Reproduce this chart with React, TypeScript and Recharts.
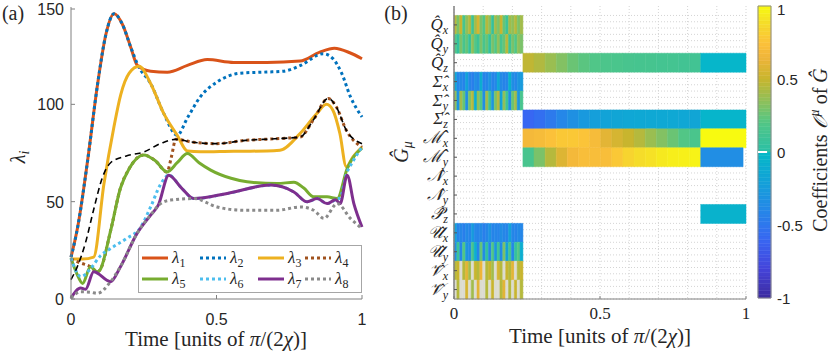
import React from 'react';
import {
  LineChart, Line, XAxis, YAxis, Legend, Scatter,
  ComposedChart, ReferenceArea, ReferenceLine, CartesianGrid,
} from 'recharts';

const SERIF = '"Liberation Serif", "DejaVu Serif", serif';
const SANS = '"Liberation Sans", Arial, sans-serif';
const AXIS = '#808080';
const INK = '#262626';

// ---- panel (a): eigenvalues over time, pairs of [time, value]
const lambda1 = [[0, 21.5], [0.023, 37], [0.057, 71], [0.091, 110], [0.12, 136], [0.148, 146.5], [0.177, 141], [0.205, 129.5], [0.228, 120], [0.274, 117], [0.331, 116.5], [0.4, 120], [0.468, 123], [0.559, 121.5], [0.673, 121.5], [0.787, 122.2], [0.855, 126.8], [0.905, 128.8], [0.958, 126.5], [1, 123.4]];
const lambda2 = [[0, 21.5], [0.023, 37], [0.057, 71], [0.091, 110], [0.12, 136], [0.148, 146.5], [0.177, 141], [0.205, 129.5], [0.232, 119.5], [0.274, 110.6], [0.319, 95.2], [0.365, 84.1], [0.4, 93], [0.445, 104], [0.502, 111.5], [0.582, 116], [0.673, 116.6], [0.73, 117], [0.789, 120], [0.867, 126], [0.9, 123.5], [0.93, 116], [0.96, 104], [1, 93.5]];
const lambda3 = [[0, 20.5], [0.04, 20.5], [0.078, 21.5], [0.113, 59], [0.147, 88], [0.171, 105], [0.2, 116], [0.234, 119.5], [0.274, 110.6], [0.319, 95.2], [0.365, 84.1], [0.4, 76], [0.445, 75.6], [0.559, 75.9], [0.673, 76], [0.718, 76.4], [0.787, 85], [0.844, 95.2], [0.878, 100], [0.9, 97], [0.924, 85], [0.946, 67.9], [0.969, 73], [1, 78.1]];
const lambda4 = [[0, 20.5], [0.033, 18.5], [0.067, 16.6], [0.09, 14], [0.1, 15], [0.136, 35], [0.17, 57], [0.2, 67], [0.25, 74], [0.29, 71], [0.33, 65.3], [0.345, 73], [0.36, 82], [0.42, 80.5], [0.5, 79.8], [0.6, 81.5], [0.7, 82.3], [0.787, 83.2], [0.832, 91.8], [0.884, 103], [0.912, 98.6], [0.946, 86.7], [1, 78]];
const lambda5 = [[0, 21], [0.02, 13], [0.04, 8], [0.067, 16.6], [0.09, 14], [0.1, 15], [0.136, 35], [0.17, 57], [0.2, 67], [0.25, 74], [0.29, 71], [0.33, 65.3], [0.365, 70], [0.4, 74.7], [0.44, 70], [0.48, 66.2], [0.55, 62], [0.605, 60.2], [0.709, 59.3], [0.766, 60], [0.8, 57], [0.834, 52.5], [0.88, 52.5], [0.915, 51.6], [0.949, 67], [1, 77.5]];
const lambda6 = [[0, 21], [0.034, 11.5], [0.067, 15.5], [0.1, 22], [0.137, 26], [0.19, 31], [0.24, 37], [0.274, 47.4], [0.308, 59], [0.336, 63.6], [0.38, 57], [0.422, 51.6], [0.537, 54.2], [0.686, 58.5], [0.766, 55], [0.812, 49.9], [0.846, 51.6], [0.88, 49], [0.909, 51], [0.925, 52], [0.946, 64], [0.97, 71], [1, 78]];
const lambda7 = [[0, 0.5], [0.033, 5.6], [0.05, 5], [0.078, 14], [0.136, 8.9], [0.17, 16.6], [0.227, 33.7], [0.273, 43], [0.3, 48.2], [0.336, 63.6], [0.38, 57], [0.422, 51.6], [0.537, 54.2], [0.686, 58.5], [0.766, 55], [0.812, 49.9], [0.846, 51.6], [0.88, 49], [0.909, 51], [0.925, 49], [0.949, 63.6], [0.972, 49], [1, 37]];
const lambda8 = [[0, 0.5], [0.033, 3.7], [0.067, 3.5], [0.09, 2.9], [0.136, 8.9], [0.17, 16.6], [0.227, 33.7], [0.273, 43], [0.308, 49], [0.342, 50.8], [0.422, 51.6], [0.502, 47.3], [0.594, 45.6], [0.709, 45.6], [0.789, 47.3], [0.834, 45.6], [0.869, 41.4], [0.915, 49], [0.96, 41.4], [1, 36.2]];
const lambdaDashed = [[0, 10], [0.02, 16], [0.05, 29], [0.078, 46], [0.107, 62], [0.136, 70], [0.19, 73.5], [0.25, 75.5], [0.31, 80], [0.36, 82], [0.42, 80.5], [0.5, 79.8], [0.6, 81.5], [0.7, 82.3], [0.787, 83.2], [0.832, 91.8], [0.884, 103], [0.912, 98.6], [0.946, 86.7], [1, 79.8]];

const timeTicks = [0, 0.5, 1];
const lambdaTicks = [0, 50, 100, 150];

const pts = (arr: number[][]) => arr.map(([t, v]) => ({ t, v }));

const lambdaSeries = [
  { sub: '1', data: lambda1, color: '#D95319', dotted: false },
  { sub: '2', data: lambda2, color: '#0072BD', dotted: true },
  { sub: '3', data: lambda3, color: '#EDB120', dotted: false },
  { sub: '4', data: lambda4, color: '#A0521E', dotted: true },
  { sub: '5', data: lambda5, color: '#77AC30', dotted: false },
  { sub: '6', data: lambda6, color: '#4DBEEE', dotted: true },
  { sub: '7', data: lambda7, color: '#7E2F8E', dotted: false },
  { sub: '8', data: lambda8, color: '#8A8A8A', dotted: true },
];

// ---- panel (b): coefficients of G on each generator
const rowLabels = [
  ['Q', 'x'], ['Q', 'y'], ['Q', 'z'], ['Σ', 'x'], ['Σ', 'y'], ['Σ', 'z'],
  ['ℳ', 'x'], ['ℳ', 'y'], ['𝒩', 'x'], ['𝒩', 'y'], ['𝒫', 'z'],
  ['𝒰', 'x'], ['𝒰', 'y'], ['𝒱', 'x'], ['𝒱', 'y'],
];
const earlyEnd = 0.236;
const switchTime = 0.845;

// early (noisy) block, 0 .. earlyEnd  (null = blank column)
const qxEarly = [0.45, 0.3, 0.5, 0.15, 0.35, 0.45, 0.1, 0.4, 0.55, 0.3, 0.2, 0.45, 0.35, 0.05, 0.4, 0.3, 0.5, 0.25, 0.1, 0.4, 0.35, 0.45, 0.3, 0.4];
const qyEarly = [0.2, 0.05, 0.3, 0.15, 0.25, 0.05, 0.35, 0.2, 0.1, 0.3, 0.15, 0.25, 0.05, 0.3, 0.2, 0.35, 0.15, 0.25, 0.45, 0.1, 0.3, 0.2, 0.35, 0.3];
const sxEarly = [-0.15, -0.4, -0.38, -0.42, -0.2, -0.4, -0.45, -0.35, -0.4, -0.1, -0.42, -0.4, -0.3, -0.42, -0.4, -0.15, -0.38, -0.42, -0.4, -0.05, -0.35, -0.4, -0.3, -0.25];
const syEarly = [0.35, -0.3, 0.4, 0.25, -0.35, 0.3, 0.45, -0.1, 0.35, 0.2, -0.35, 0.4, 0.1, -0.3, 0.3, 0.45, -0.2, 0.35, 0.1, -0.35, 0.25, 0.4, -0.3, 0.15];
const uxEarly = [-0.2, -0.42, -0.4, -0.45, -0.38, -0.42, -0.25, -0.4, -0.42, -0.38, -0.45, -0.4, -0.3, -0.42, -0.4, -0.42, -0.35, -0.4, -0.42, -0.2, -0.4, -0.42, -0.38, -0.4];
const uyEarly = [-0.35, 0.1, -0.4, 0.2, -0.3, -0.38, 0.15, -0.1, -0.4, 0.25, -0.35, 0.05, -0.4, 0.2, -0.3, 0.1, -0.38, 0.3, -0.2, 0.15, -0.4, 0.05, 0.2, -0.1];
const vxEarly = [0.45, 0.5, null, 0.45, 0.6, 0.4, null, 0.5, 0.45, 0.65, null, 0.45, 0.5, 0.4, null, 0.55, 0.45, null, 0.5, 0.45, 0.6, null, 0.45, 0.5];
const vyEarly = [null, 0.45, null, null, 0.55, null, 0.4, null, 0.6, null, null, 0.45, null, 0.5, null, null, 0.45, 0.6, null, 0.45, null, 0.5, null, 0.45];

// middle block, earlyEnd .. switchTime
const qzMid = [0.48, 0.44, 0.38, 0.32, 0.26, 0.22, 0.19, 0.17, 0.16, 0.15, 0.14, 0.14, 0.13, 0.13, 0.12, 0.12];
const szMid = [-0.6, -0.55, -0.48, -0.4, -0.33, -0.27, -0.22, -0.19, -0.17, -0.16, -0.15, -0.15, -0.15, -0.15, -0.16, -0.17];
const mxMid = [0.68, 0.7, 0.74, 0.78, 0.78, 0.76, 0.7, 0.6, 0.55, 0.5, 0.45, 0.38, 0.32, 0.26, 0.2, 0.16];
const myMid = [0.15, 0.3, 0.45, 0.58, 0.68, 0.72, 0.72, 0.72, 0.78, 0.84, 0.88, 0.9, 0.93, 0.95, 0.96, 0.97];

// late block, switchTime .. 1
const qzLate = -0.03;
const szLate = -0.04;
const mxLate = 1.0;
const myLate = -0.35;
const pzLate = -0.06;

const colorbarTicks = [-1, -0.5, 0, 0.5, 1];

// colormap, sampled from the reference colour bar
const cmap: [number, string][] = [
  [-1, '#3d2b9e'], [-0.8, '#4444da'], [-0.6, '#3867f2'], [-0.4, '#2587e8'],
  [-0.2, '#13a2d8'], [-0.01, '#05b8c8'], [0.01, '#2cc0a4'], [0.2, '#52c686'],
  [0.35, '#8fc05a'], [0.5, '#c8b52e'], [0.65, '#f0b53a'], [0.75, '#fcc23a'],
  [0.88, '#f5dc2a'], [1, '#f8fa10'],
];

const hex = (h: string) => [1, 3, 5].map((i) => parseInt(h.slice(i, i + 2), 16));
const colorFor = (v: number | null) => {
  if (v === null) return '#dcdcd0';
  for (let i = 1; i < cmap.length; i++) {
    const [v1, c1] = cmap[i];
    const [v0, c0] = cmap[i - 1];
    if (v <= v1) {
      const f = Math.max(0, (v - v0) / (v1 - v0));
      const a = hex(c0), b = hex(c1);
      return `rgb(${a.map((x, k) => Math.round(x + (b[k] - x) * f)).join(',')})`;
    }
  }
  return cmap[cmap.length - 1][1];
};

type Cell = { row: number; x1: number; x2: number; v: number | null };
const cells: Cell[] = [];
const addRun = (row: number, vals: (number | null)[], start: number, end: number) => {
  const w = (end - start) / vals.length;
  vals.forEach((v, i) => cells.push({ row, x1: start + i * w, x2: start + (i + 1) * w, v }));
};
addRun(0, qxEarly, 0, earlyEnd);
addRun(1, qyEarly, 0, earlyEnd);
addRun(2, qzMid, earlyEnd, switchTime);
addRun(2, [qzLate], switchTime, 1);
addRun(3, sxEarly, 0, earlyEnd);
addRun(4, syEarly, 0, earlyEnd);
addRun(5, szMid, earlyEnd, switchTime);
addRun(5, [szLate], switchTime, 1);
addRun(6, mxMid, earlyEnd, switchTime);
addRun(6, [mxLate], switchTime, 1);
addRun(7, myMid, earlyEnd, switchTime);
addRun(7, [myLate], switchTime, 0.99);
addRun(10, [pzLate], switchTime, 1);
addRun(11, uxEarly, 0, earlyEnd);
addRun(12, uyEarly, 0, earlyEnd);
addRun(13, vxEarly, 0, earlyEnd);
addRun(14, vyEarly, 0, earlyEnd);

// cell centres, fed to an invisible scatter so the axes have data
const cellCentres = cells.map((c) => ({ t: (c.x1 + c.x2) / 2, r: c.row + 0.5 }));

const rowTicks = rowLabels.map((_, i) => i + 0.5);
const gridX = Array.from({ length: 31 }, (_, i) => i / 30);
const gridY = Array.from({ length: 46 }, (_, i) => i / 3);
const cbarSlices = Array.from({ length: 80 }, (_, i) => -1 + (i * 2) / 80);
const cbarCentres = cbarSlices.map((v) => ({ t: 0.5, r: v + 1 / 80 }));

const NoShape = () => <g />;

const LeftXTick = ({ x, y, payload }: any) => (
  <g>
    <line x1={x} x2={x} y1={y} y2={y - 4} stroke={AXIS} />
    <text x={x} y={y + 26} textAnchor="middle" fontFamily={SANS} fontSize={16} fill={INK}>{payload.value}</text>
  </g>
);
const LeftYTick = ({ x, y, payload }: any) => (
  <g>
    <line x1={x} x2={x + 4} y1={y} y2={y} stroke={AXIS} />
    <text x={x - 7} y={y + 6} textAnchor="end" fontFamily={SANS} fontSize={16} fill={INK}>{payload.value}</text>
  </g>
);
const HeatXTick = ({ x, y, payload }: any) => (
  <g>
    <line x1={x} x2={x} y1={y} y2={y - 3} stroke={AXIS} />
    <text x={x} y={y + 20} textAnchor="middle" fontFamily={SERIF} fontSize={17} fill={INK}>{payload.value}</text>
  </g>
);
const RowTick = ({ x, y, payload }: any) => {
  const lab = rowLabels[Math.round(payload.value - 0.5)];
  if (!lab) return <g />;
  return (
    <g>
      <line x1={x} x2={x + 3} y1={y} y2={y} stroke="#555" />
      <text x={x - 6} y={y + 5} textAnchor="end" fontFamily={SERIF} fontStyle="italic" fontSize={17} fill={INK}>
        {lab[0] + '\u0302'}
        <tspan fontSize={12} dy={4}>{lab[1]}</tspan>
      </text>
    </g>
  );
};
const CbarTick = ({ x, y, payload }: any) => (
  <text x={x + 6} y={Math.max(y + 5.5, 15)} textAnchor="start" fontFamily={SANS} fontSize={15} fill={INK}>{payload.value}</text>
);

const legendCols = [4, 62, 120, 167];
const LambdaLegend = () => (
  <svg width={224} height={48}>
    <rect x={0.5} y={0.5} width={223} height={47} fill="#fff" stroke="#a6a6a6" />
    {lambdaSeries.map((s, i) => {
      const cx = legendCols[i % 4];
      const cy = i < 4 ? 13 : 34;
      return (
        <g key={s.sub}>
          <line x1={cx} x2={cx + 26} y1={cy} y2={cy} stroke={s.color} strokeWidth={3}
            strokeDasharray={s.dotted ? '3 3' : undefined} />
          <text x={cx + 30} y={cy + 5} fontFamily={SERIF} fontStyle="italic" fontSize={17} fill={INK}>
            λ<tspan fontSize={12} dy={4} fontStyle="normal">{s.sub}</tspan>
          </text>
        </g>
      );
    })}
  </svg>
);

export default function App() {
  return (
    <div style={{ position: 'absolute', left: 0, top: 0, width: 830, height: 351, background: '#fff', overflow: 'hidden' }}>
      <div style={{ position: 'absolute', left: 0, top: 0 }}>
        <LineChart width={400} height={351} margin={{ top: 7, right: 38, bottom: 0, left: 0 }}>
          <XAxis type="number" dataKey="t" domain={[0, 1]} ticks={timeTicks} height={52}
            axisLine={{ stroke: AXIS }} tickLine={false} tickSize={0} tickMargin={0} tick={<LeftXTick />} allowDuplicatedCategory={false} />
          <YAxis type="number" domain={[0, 150]} ticks={lambdaTicks} width={71}
            axisLine={{ stroke: AXIS }} tickLine={false} tickSize={0} tickMargin={0} tick={<LeftYTick />} />
          {lambdaSeries.map((s) => (
            <Line key={s.sub} data={pts(s.data)} dataKey="v" type="monotone" stroke={s.color} strokeWidth={3}
              strokeDasharray={s.dotted ? '3 3' : undefined} dot={false} activeDot={false} isAnimationActive={false} />
          ))}
          <Line data={pts(lambdaDashed)} dataKey="v" type="monotone" stroke="#000" strokeWidth={1.6}
            strokeDasharray="6 4" dot={false} activeDot={false} isAnimationActive={false} />
          <Legend layout="horizontal" align="center" verticalAlign="middle" content={<LambdaLegend />}
            wrapperStyle={{ left: 138, top: 245, width: 224, height: 48 }} />
        </LineChart>
      </div>

      <div style={{ position: 'absolute', left: 400, top: 0 }}>
        <ComposedChart width={360} height={351} margin={{ top: 6, right: 14, bottom: 0, left: 0 }}>
          <CartesianGrid stroke="#d4d4d4" strokeDasharray="1 2" verticalValues={gridX} horizontalValues={gridY} />
          <XAxis type="number" dataKey="t" domain={[0, 1]} ticks={timeTicks} height={52} allowDataOverflow
            axisLine={{ stroke: AXIS }} tickLine={false} tickSize={0} tickMargin={0} tick={<HeatXTick />} />
          <YAxis type="number" dataKey="r" domain={[-0.5, 15]} reversed ticks={rowTicks} width={54} interval={0} allowDataOverflow
            axisLine={{ stroke: AXIS, strokeWidth: 1.5 }} tickLine={false} tickSize={0} tickMargin={0} tick={<RowTick />} />
          {cells.map((c, i) => (
            <ReferenceArea key={i} x1={c.x1} x2={c.x2} y1={c.row} y2={c.row + 1}
              fill={colorFor(c.v)} fillOpacity={1} stroke={colorFor(c.v)} strokeWidth={0.5} />
          ))}
          <Scatter data={cellCentres} dataKey="r" shape={<NoShape />} isAnimationActive={false} />
        </ComposedChart>
      </div>

      <div style={{ position: 'absolute', left: 745, top: 0 }}>
        <ComposedChart width={85} height={351} margin={{ top: 6, right: 0, bottom: 53, left: 13 }}>
          <XAxis type="number" dataKey="t" domain={[0, 1]} hide />
          <YAxis type="number" dataKey="r" orientation="right" domain={[-1, 1]} ticks={colorbarTicks} width={59} interval={0}
            axisLine={false} tickLine={false} tickSize={0} tickMargin={0} tick={<CbarTick />} />
          {cbarSlices.map((v, i) => (
            <ReferenceArea key={i} x1={0} x2={1} y1={v} y2={v + 2 / 80}
              fill={colorFor(v + 1 / 80)} fillOpacity={1} stroke={colorFor(v + 1 / 80)} strokeWidth={0.5} />
          ))}
          <ReferenceArea x1={0} x2={1} y1={-1} y2={1} fill="none" fillOpacity={0} stroke="#8c8c8c" />
          <ReferenceLine segment={[{ x: 0, y: 0 }, { x: 0.7, y: 0 }]} stroke="#fff" strokeWidth={2} />
          <Scatter data={cbarCentres} dataKey="r" shape={<NoShape />} isAnimationActive={false} />
        </ComposedChart>
      </div>

      <svg width={830} height={351} style={{ position: 'absolute', left: 0, top: 0, pointerEvents: 'none' }}>
        <g fontFamily={SERIF} fill={INK}>
          <text x={13} y={20} fontSize={20} textAnchor="middle">(a)</text>
          <text x={396} y={20} fontSize={20} textAnchor="middle">(b)</text>
          <text x={216} y={346} fontSize={21} textAnchor="middle">
            Time [units of <tspan fontStyle="italic">π</tspan>/(2<tspan fontStyle="italic">χ</tspan>)]
          </text>
          <text x={600} y={343} fontSize={21} textAnchor="middle">
            Time [units of <tspan fontStyle="italic">π</tspan>/(2<tspan fontStyle="italic">χ</tspan>)]
          </text>
          <text transform="translate(25,157) rotate(-90)" fontSize={20} fontStyle="italic" textAnchor="middle">
            λ<tspan fontSize={14} dy={4}>i</tspan>
          </text>
          <text transform="translate(408,152) rotate(-90)" fontSize={20} fontStyle="italic" textAnchor="middle">
            {'G\u0302'}<tspan fontSize={14} dy={4}>μ</tspan>
          </text>
          <text transform="translate(827,150) rotate(-90)" fontSize={20} textAnchor="middle">
            Coefficients <tspan fontStyle="italic">𝒪</tspan><tspan fontSize={14} dy={-8} fontStyle="italic">μ</tspan><tspan dy={8}> of </tspan><tspan fontStyle="italic">{'G\u0302'}</tspan>
          </text>
        </g>
      </svg>
    </div>
  );
}
